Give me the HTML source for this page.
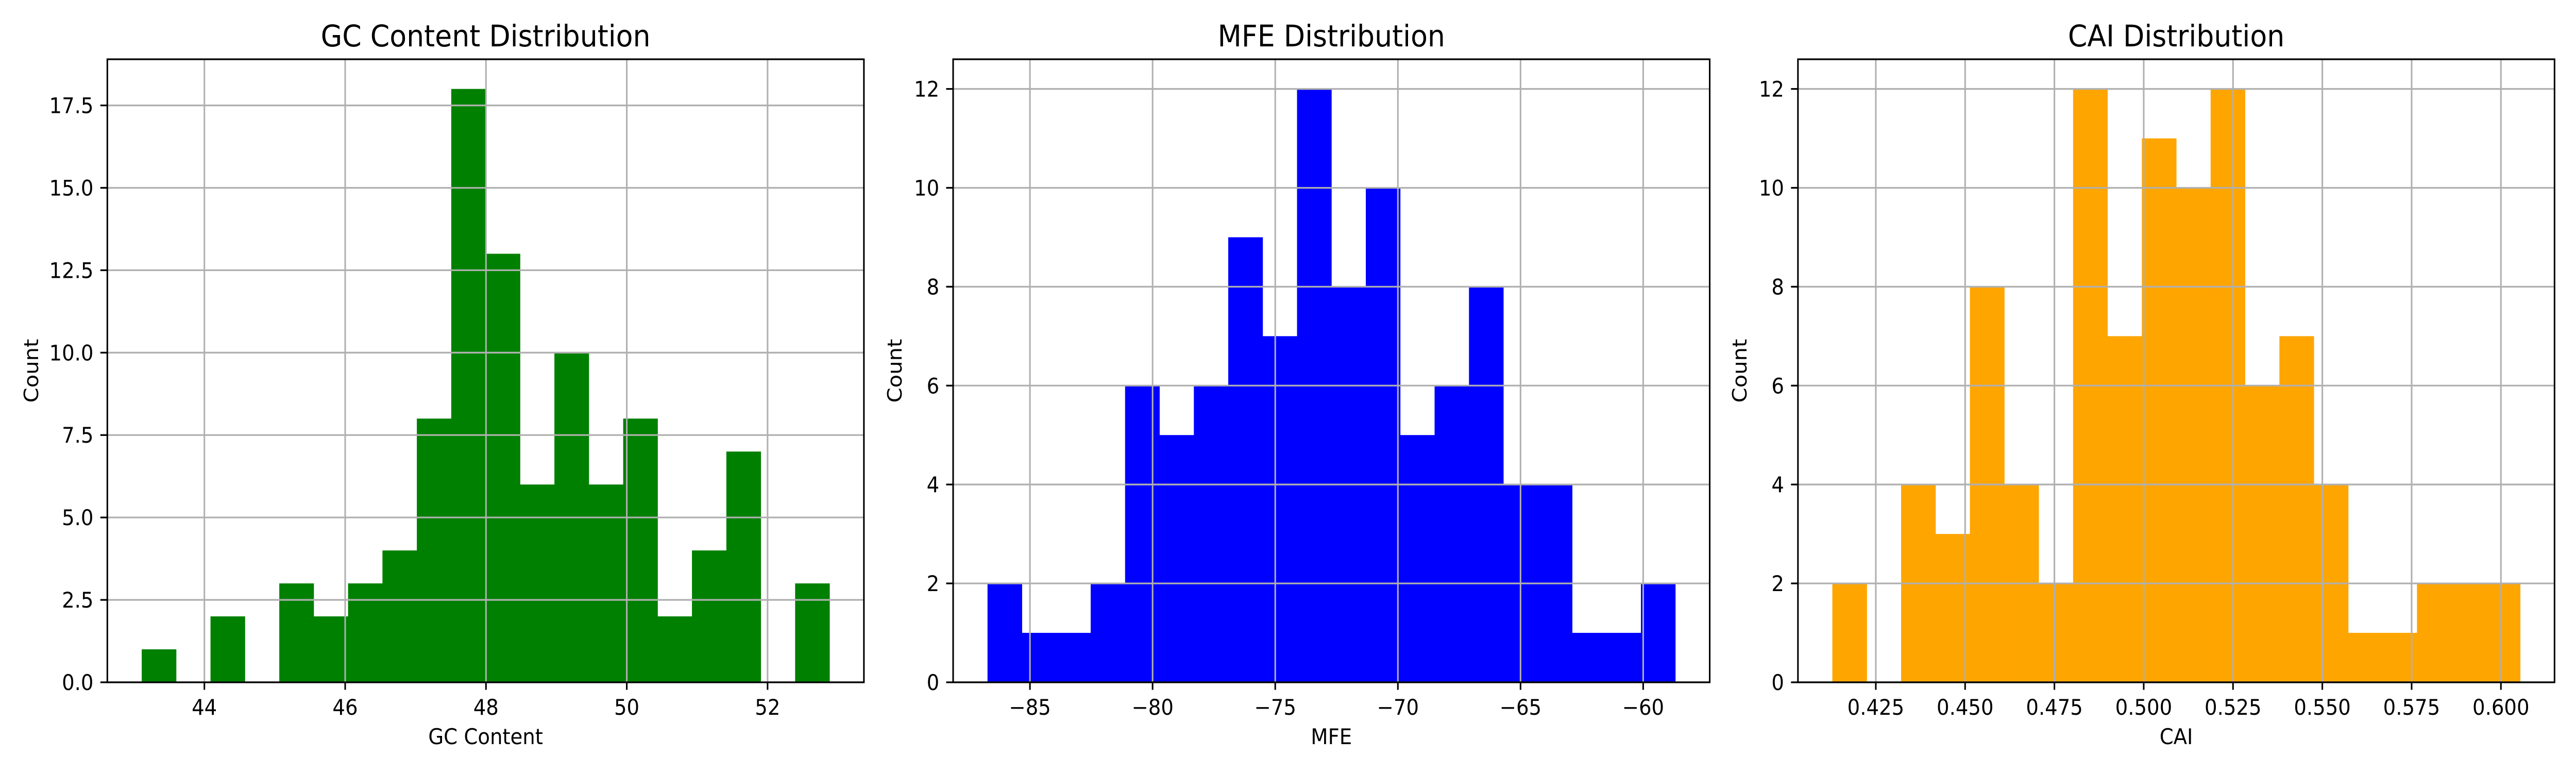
<!DOCTYPE html>
<html><head><meta charset="utf-8">
<style>html,body{margin:0;padding:0;background:#fff;width:100%;height:100%;overflow:hidden}svg{display:block;width:100vw;height:100vh}text{font-family:"DejaVu Sans","Liberation Sans",sans-serif;fill:#000}</style>
</head><body>
<svg id="fig" viewBox="0 0 5400 1500" preserveAspectRatio="none" xmlns="http://www.w3.org/2000/svg"></svg>
<script>
// GC content histogram
const gcRange = [43.11, 52.88];
const gcCounts = [1,0,2,0,3,2,3,4,8,18,13,6,10,6,8,2,4,7,0,3];
const gcXTicks = [44,46,48,50,52];
const gcXTickLabels = ["44","46","48","50","52"];
const gcYTicks = [0,2.5,5,7.5,10,12.5,15,17.5];
const gcYTickLabels = ["0.0","2.5","5.0","7.5","10.0","12.5","15.0","17.5"];
// MFE histogram
const mfeRange = [-86.73, -58.69];
const mfeCounts = [2,1,1,2,6,5,6,9,7,12,8,10,5,6,8,4,4,1,1,2];
const mfeXTicks = [-85,-80,-75,-70,-65,-60];
const mfeXTickLabels = ["\u221285","\u221280","\u221275","\u221270","\u221265","\u221260"];
const mfeYTicks = [0,2,4,6,8,10,12];
const mfeYTickLabels = ["0","2","4","6","8","10","12"];
// CAI histogram
const caiRange = [0.41283, 0.60538];
const caiCounts = [2,0,4,3,8,4,2,12,7,11,10,12,6,7,4,1,1,2,2,2];
const caiXTicks = [0.425,0.45,0.475,0.5,0.525,0.55,0.575,0.6];
const caiXTickLabels = ["0.425","0.450","0.475","0.500","0.525","0.550","0.575","0.600"];
const caiYTicks = [0,2,4,6,8,10,12];
const caiYTickLabels = ["0","2","4","6","8","10","12"];

const NS = "http://www.w3.org/2000/svg";
const svg = document.getElementById('fig');
function mk(tag, attrs, parent){const e=document.createElementNS(NS,tag);for(const k in attrs)e.setAttribute(k,attrs[k]);parent.appendChild(e);return e;}

function panel(key, left, range, counts, xt, xtl, yt, ytl, color, title, xlabel, ylabOff){
  const top=115,bottom=1324,right=left+1586;
  const g=mk('g',{},svg);
  
  
  const R=range[1]-range[0];
  const xmin=range[0]-0.05*R,xmax=range[1]+0.05*R;
  const ymax=Math.max(...counts)*1.05;
  const xs=v=>left+(v-xmin)/(xmax-xmin)*(right-left);
  const ys=v=>bottom-v/ymax*(bottom-top);
  const n=counts.length,w=R/n;
  counts.forEach((c,i)=>{
    if(c<=0)return;
    const x0=xs(range[0]+i*w),x1=xs(range[0]+(i+1)*w);
    const r=mk('rect',{x:x0,y:ys(c),width:x1-x0+0.5,height:bottom-ys(c),fill:color},g);
    
    
  });
  xt.forEach((v,i)=>{
    const x=xs(v);
    const l=mk('line',{x1:x,x2:x,y1:top,y2:bottom,stroke:'#b0b0b0','stroke-width':3.3},g);
    
    
    mk('line',{x1:x,x2:x,y1:bottom,y2:bottom+14.6,stroke:'#000','stroke-width':3.3},g);
    const t=mk('text',{x:x,y:1387,'font-size':41.7,'text-anchor':'middle'},g);
    t.textContent=xtl[i];
    
    
  });
  yt.forEach((v,i)=>{
    const y=ys(v);
    const l=mk('line',{x1:left,x2:right,y1:y,y2:y,stroke:'#b0b0b0','stroke-width':3.3},g);
    
    
    mk('line',{x1:left-14.6,x2:left,y1:y,y2:y,stroke:'#000','stroke-width':3.3},g);
    const t=mk('text',{x:left-29,y:y+15,'font-size':41.7,'text-anchor':'end'},g);
    t.textContent=ytl[i];
    
    
  });
  const f=mk('rect',{x:left,y:top,width:right-left,height:bottom-top,fill:'none',stroke:'#000','stroke-width':3.3},g);
  
  
  const tt=mk('text',{x:(left+right)/2,y:90,'font-size':58,'text-anchor':'middle'},g);
  tt.textContent=title;
  
  
  const xl=mk('text',{x:(left+right)/2,y:1444,'font-size':41.7,'text-anchor':'middle'},g);
  xl.textContent=xlabel;
  
  
  const cy=(top+bottom)/2,cx=left-ylabOff;
  const yl=mk('text',{x:cx,y:cy,'font-size':41.7,'text-anchor':'middle',transform:`rotate(-90 ${cx} ${cy}) translate(0 15)`},g);
  yl.textContent='Count';
  
  
}
panel('gc',225,gcRange,gcCounts,gcXTicks,gcXTickLabels,gcYTicks,gcYTickLabels,'#008000','GC Content Distribution','GC Content',160);
panel('mfe',1998,mfeRange,mfeCounts,mfeXTicks,mfeXTickLabels,mfeYTicks,mfeYTickLabels,'#0000ff','MFE Distribution','MFE',123);
panel('cai',3769,caiRange,caiCounts,caiXTicks,caiXTickLabels,caiYTicks,caiYTickLabels,'#ffa500','CAI Distribution','CAI',123);
</script>
</body></html>
